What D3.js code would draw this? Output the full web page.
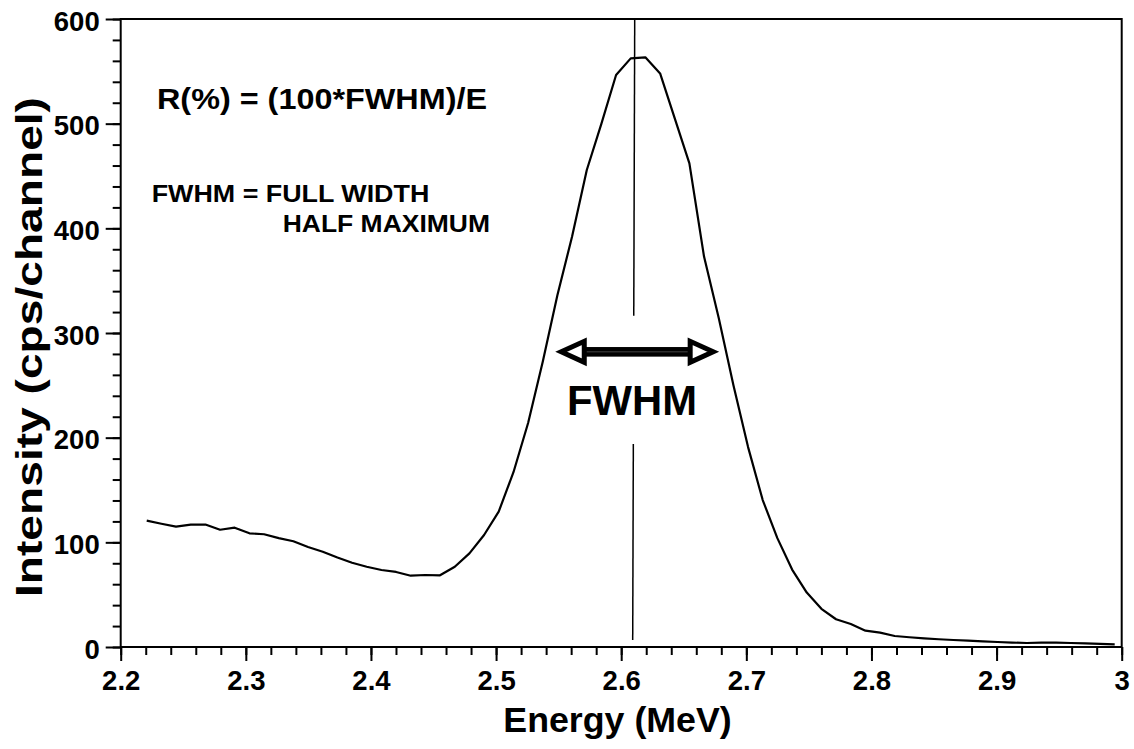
<!DOCTYPE html>
<html><head><meta charset="utf-8">
<script src="https://cdn.jsdelivr.net/npm/d3@7"></script>
<style>body{margin:0;background:#fff}svg{display:block}text{font-family:"Liberation Sans",Arial,sans-serif;font-weight:bold;fill:#000}</style>
</head><body><svg id="c" width="1134" height="749"></svg>
<script>
const energy = [2.2208,2.2325,2.2442,2.2560,2.2677,2.2794,2.2911,2.3029,2.3146,2.3263,2.3380,2.3497,2.3615,2.3732,2.3849,2.3966,2.4084,2.4201,2.4318,2.4435,2.4552,2.4670,2.4787,2.4904,2.5021,2.5139,2.5256,2.5373,2.5490,2.5607,2.5725,2.5842,2.5959,2.6076,2.6193,2.6311,2.6428,2.6545,2.6662,2.6780,2.6897,2.7014,2.7131,2.7248,2.7366,2.7483,2.7600,2.7717,2.7835,2.7952,2.8069,2.8186,2.8303,2.8421,2.8538,2.8655,2.8772,2.8890,2.9007,2.9124,2.9241,2.9358,2.9476,2.9593,2.9710,2.9827,2.9944];
const intensity = [120.7,117.8,115,117,117,112,114,108.6,107.7,104,101,95.5,91,85.5,80.5,76.7,73.6,71.7,68.1,68.8,68.5,76.7,89.5,107,129.3,167,214,272.6,336,392,455.7,500,546.5,562.4,563.4,548,505,462,373,314,250,191,140.4,104,74,52,36.5,26.5,22,15.6,13.7,10.5,9.3,8.3,7.4,6.7,6,5.4,4.8,4.2,3.8,4.1,4.1,3.8,3.5,2.9,2.6];
const xTicks = [2.2,2.3,2.4,2.5,2.6,2.7,2.8,2.9,3];
const xTickLabels = ["2.2","2.3","2.4","2.5","2.6","2.7","2.8","2.9","3"];
const yTicks = [0,100,200,300,400,500,600];
const peakLineE = [2.6108, 2.6092];
const peakLineTop = [600, 316.5];
const peakLineBottom = [194, 6.7];
const fwhmArrow = {y: 282, left: 2.5497, right: 2.6759};

const svg = d3.select("#c");
const x = d3.scaleLinear().domain([2.2,3]).range([120.7,1121.7]);
const y = d3.scaleLinear().domain([0,600]).range([647,19]);

// frame
svg.append("rect").attr("x",x(2.2)).attr("y",y(600)).attr("width",x(3)-x(2.2)).attr("height",y(0)-y(600))
  .attr("fill","none").attr("stroke","#000").attr("stroke-width",2);

// minor ticks
const minorX = d3.range(0,41).map(i=>2.2+i*0.02);
const minorY = d3.range(0,31).map(i=>i*20);
svg.append("g").attr("transform",`translate(0,${y(0)})`)
  .call(d3.axisBottom(x).tickValues(minorX).tickSize(8).tickFormat(""))
  .call(g=>g.select(".domain").remove())
  .selectAll("line").attr("stroke-width",2);
svg.append("g").attr("transform",`translate(${x(2.2)},0)`)
  .call(d3.axisLeft(y).tickValues(minorY).tickSize(8).tickFormat(""))
  .call(g=>g.select(".domain").remove())
  .selectAll("line").attr("stroke-width",2);

// major ticks
const gx = svg.append("g").attr("transform",`translate(0,${y(0)})`)
  .call(d3.axisBottom(x).tickValues(xTicks).tickSize(14).tickPadding(9).tickFormat((d,i)=>xTickLabels[i]));
gx.select(".domain").remove();
gx.selectAll("line").attr("stroke-width",2);
gx.selectAll("text").attr("font-size",27.5).attr("font-family","Liberation Sans, Arial, sans-serif").attr("font-weight","bold").attr("fill","#000");

const gy = svg.append("g").attr("transform",`translate(${x(2.2)},0)`)
  .call(d3.axisLeft(y).tickValues(yTicks).tickSize(15).tickPadding(6));
gy.select(".domain").remove();
gy.selectAll("line").attr("stroke-width",2);
gy.selectAll("text").attr("font-size",27.5).attr("font-family","Liberation Sans, Arial, sans-serif").attr("font-weight","bold").attr("fill","#000").attr("dy","0.4em");

// curve
const pts = energy.map((e,i)=>[e,intensity[i]]);
svg.append("path").datum(pts)
  .attr("d",d3.line().x(d=>x(d[0])).y(d=>y(d[1])))
  .attr("fill","none").attr("stroke","#000").attr("stroke-width",2.2).attr("stroke-linejoin","round");

// peak vertical line (two segments)
const lineE = d3.scaleLinear().domain([600,6.7]).range(peakLineE);
[peakLineTop, peakLineBottom].forEach(seg=>{
  svg.append("line")
    .attr("x1",x(lineE(seg[0]))).attr("y1",y(seg[0]))
    .attr("x2",x(lineE(seg[1]))).attr("y2",y(seg[1]))
    .attr("stroke","#000").attr("stroke-width",1.5);
});

// FWHM arrow
const ay = y(fwhmArrow.y), axl = x(fwhmArrow.left), axr = x(fwhmArrow.right);
const hl = 26, hh = 10.5;
svg.append("rect").attr("x",axl+hl-2).attr("y",ay-4.8).attr("width",(axr-axl)-2*hl+4).attr("height",9.6).attr("fill","#000");
svg.append("line").attr("x1",axl+hl).attr("x2",axr-hl).attr("y1",ay).attr("y2",ay).attr("stroke","#555").attr("stroke-width",0.8);
svg.append("polygon").attr("points",`${axl+3},${ay} ${axl+hl},${ay-hh} ${axl+hl},${ay+hh}`)
  .attr("fill","#fff").attr("stroke","#000").attr("stroke-width",5).attr("stroke-linejoin","miter");
svg.append("polygon").attr("points",`${axr-3},${ay} ${axr-hl},${ay-hh} ${axr-hl},${ay+hh}`)
  .attr("fill","#fff").attr("stroke","#000").attr("stroke-width",5).attr("stroke-linejoin","miter");

// annotations
function txt(s, xx, yy, size, len, anchor){
  const t = svg.append("text").attr("x",xx).attr("y",yy).attr("font-size",size).text(s);
  if(len) t.attr("textLength",len).attr("lengthAdjust","spacingAndGlyphs");
  if(anchor) t.attr("text-anchor",anchor);
  return t;
}
txt("FWHM", 567, 415, 42, 130);
txt("R(%) = (100*FWHM)/E", 157, 109.3, 29, 330);
txt("FWHM = FULL WIDTH", 151.7, 201.7, 23.5, 277.6);
txt("HALF MAXIMUM", 282.7, 231.7, 23.5, 207.3);
txt("Energy (MeV)", 503.3, 731.7, 35, 228.4);
svg.append("text").attr("transform","translate(41.7,347) rotate(-90)").attr("text-anchor","middle")
  .attr("font-size",37).attr("textLength",500).attr("lengthAdjust","spacingAndGlyphs").text("Intensity (cps/channel)");
</script>
</body></html>
